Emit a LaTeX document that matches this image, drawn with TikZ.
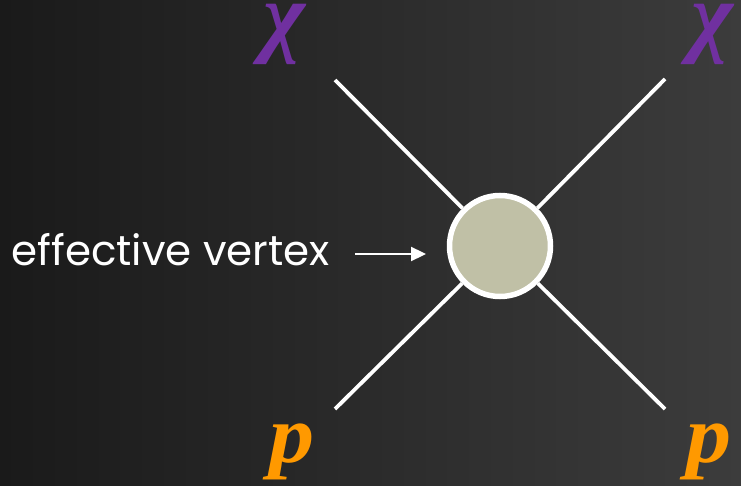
\documentclass[tikz,border=0pt]{standalone}
\usepackage{fontspec}
\setsansfont{Poppins}
\newfontfamily\particlefont{Liberation Serif}
\usetikzlibrary{arrows.meta, positioning}
\definecolor{BgDark}{HTML}{1A1A1A}
\definecolor{BgLight}{HTML}{3C3C3C}
\definecolor{Chi}{HTML}{7030A0}
\definecolor{Proton}{HTML}{FF9900}
\definecolor{Blob}{HTML}{C0C0A6}

\begin{document}
\begin{tikzpicture}[
  x=1pt, y=-1pt,
  leg/.style={draw=white, line width=3.8pt},
  particle/.style={inner sep=0pt},
  chilabel/.style={particle, text=Chi, font=\particlefont\bfseries\itshape\fontsize{90}{90}\selectfont},
  plabel/.style={particle, text=Proton, font=\particlefont\bfseries\itshape\fontsize{82}{82}\selectfont, xscale=1.1},
  blob/.style={circle, draw=white, line width=5.5pt, fill=Blob, minimum size=101pt, inner sep=0pt},
  arrow/.style={-{Triangle[length=15pt, width=14pt]}, draw=white, line width=2.3pt}
]
% background
\fill[left color=BgDark, right color=BgLight] (0,0) rectangle (741,486);
\useasboundingbox (0,0) rectangle (741,486);

\coordinate (tl) at (335,80);
\coordinate (tr) at (665,79);
\coordinate (bl) at (335,409);
\coordinate (br) at (665,409);
\node[blob] (vertex) at (500,246) {};

\draw[leg] (tl) -- (vertex);
\draw[leg] (tr) -- (vertex);
\draw[leg] (bl) -- (vertex);
\draw[leg] (br) -- (vertex);

\node[chilabel] (chiin) at (284,34) {χ};
\node[chilabel] (chiout) at (712,34) {χ};
\node[plabel] (pin) at (292,452) {p};
\node[plabel] (pout) at (709,452) {p};

\node[text=white, font=\sffamily\fontsize{42}{44}\selectfont, anchor=east, inner sep=0pt] (name) at (330,250) {effective vertex};
\coordinate (tail) at (355,254);
\coordinate (tip) at (426,254);
\draw[arrow] (tail) -- (tip);
\end{tikzpicture}
\end{document}
